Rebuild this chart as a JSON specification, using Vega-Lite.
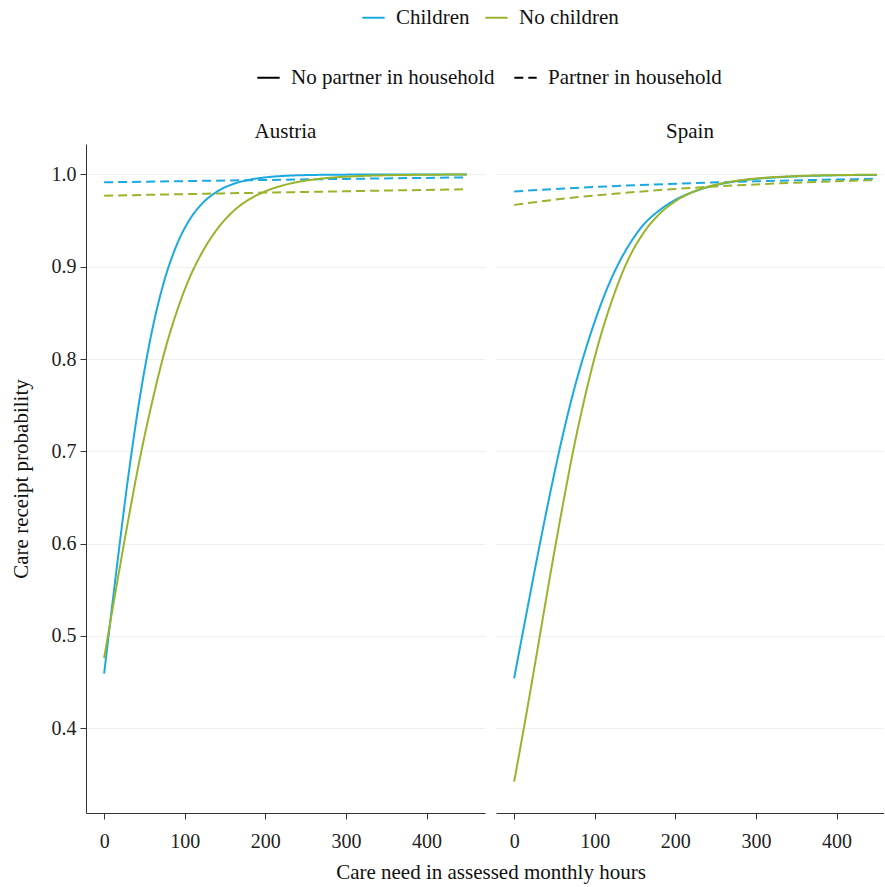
{
  "$schema": "https://vega.github.io/schema/vega-lite/v6.json",
  "padding": {"left": 10, "right": 0, "top": 5, "bottom": 5},
  "data": {
    "values": [
      {"country": "Austria", "children": "Children", "partner": "No partner in household", "hours": 0, "p": 0.459},
      {"country": "Austria", "children": "Children", "partner": "No partner in household", "hours": 15, "p": 0.569},
      {"country": "Austria", "children": "Children", "partner": "No partner in household", "hours": 30, "p": 0.673},
      {"country": "Austria", "children": "Children", "partner": "No partner in household", "hours": 45, "p": 0.762},
      {"country": "Austria", "children": "Children", "partner": "No partner in household", "hours": 60, "p": 0.833},
      {"country": "Austria", "children": "Children", "partner": "No partner in household", "hours": 75, "p": 0.886},
      {"country": "Austria", "children": "Children", "partner": "No partner in household", "hours": 90, "p": 0.9235},
      {"country": "Austria", "children": "Children", "partner": "No partner in household", "hours": 105, "p": 0.9495},
      {"country": "Austria", "children": "Children", "partner": "No partner in household", "hours": 120, "p": 0.967},
      {"country": "Austria", "children": "Children", "partner": "No partner in household", "hours": 140, "p": 0.9814},
      {"country": "Austria", "children": "Children", "partner": "No partner in household", "hours": 160, "p": 0.9896},
      {"country": "Austria", "children": "Children", "partner": "No partner in household", "hours": 180, "p": 0.9942},
      {"country": "Austria", "children": "Children", "partner": "No partner in household", "hours": 200, "p": 0.9968},
      {"country": "Austria", "children": "Children", "partner": "No partner in household", "hours": 225, "p": 0.9985},
      {"country": "Austria", "children": "Children", "partner": "No partner in household", "hours": 250, "p": 0.9993},
      {"country": "Austria", "children": "Children", "partner": "No partner in household", "hours": 300, "p": 0.9998},
      {"country": "Austria", "children": "Children", "partner": "No partner in household", "hours": 350, "p": 1.0},
      {"country": "Austria", "children": "Children", "partner": "No partner in household", "hours": 400, "p": 1.0},
      {"country": "Austria", "children": "Children", "partner": "No partner in household", "hours": 450, "p": 1.0},

      {"country": "Austria", "children": "Children", "partner": "Partner in household", "hours": 0, "p": 0.9915},
      {"country": "Austria", "children": "Children", "partner": "Partner in household", "hours": 150, "p": 0.9934},
      {"country": "Austria", "children": "Children", "partner": "Partner in household", "hours": 300, "p": 0.9952},
      {"country": "Austria", "children": "Children", "partner": "Partner in household", "hours": 450, "p": 0.9968},

      {"country": "Austria", "children": "No children", "partner": "No partner in household", "hours": 0, "p": 0.476},
      {"country": "Austria", "children": "No children", "partner": "No partner in household", "hours": 15, "p": 0.552},
      {"country": "Austria", "children": "No children", "partner": "No partner in household", "hours": 30, "p": 0.626},
      {"country": "Austria", "children": "No children", "partner": "No partner in household", "hours": 45, "p": 0.695},
      {"country": "Austria", "children": "No children", "partner": "No partner in household", "hours": 60, "p": 0.755},
      {"country": "Austria", "children": "No children", "partner": "No partner in household", "hours": 75, "p": 0.808},
      {"country": "Austria", "children": "No children", "partner": "No partner in household", "hours": 90, "p": 0.851},
      {"country": "Austria", "children": "No children", "partner": "No partner in household", "hours": 105, "p": 0.886},
      {"country": "Austria", "children": "No children", "partner": "No partner in household", "hours": 120, "p": 0.913},
      {"country": "Austria", "children": "No children", "partner": "No partner in household", "hours": 140, "p": 0.9405},
      {"country": "Austria", "children": "No children", "partner": "No partner in household", "hours": 160, "p": 0.960},
      {"country": "Austria", "children": "No children", "partner": "No partner in household", "hours": 180, "p": 0.973},
      {"country": "Austria", "children": "No children", "partner": "No partner in household", "hours": 200, "p": 0.9817},
      {"country": "Austria", "children": "No children", "partner": "No partner in household", "hours": 225, "p": 0.9889},
      {"country": "Austria", "children": "No children", "partner": "No partner in household", "hours": 250, "p": 0.9933},
      {"country": "Austria", "children": "No children", "partner": "No partner in household", "hours": 275, "p": 0.996},
      {"country": "Austria", "children": "No children", "partner": "No partner in household", "hours": 300, "p": 0.9976},
      {"country": "Austria", "children": "No children", "partner": "No partner in household", "hours": 350, "p": 0.9991},
      {"country": "Austria", "children": "No children", "partner": "No partner in household", "hours": 400, "p": 0.9997},
      {"country": "Austria", "children": "No children", "partner": "No partner in household", "hours": 450, "p": 0.9999},

      {"country": "Austria", "children": "No children", "partner": "Partner in household", "hours": 0, "p": 0.977},
      {"country": "Austria", "children": "No children", "partner": "Partner in household", "hours": 150, "p": 0.9795},
      {"country": "Austria", "children": "No children", "partner": "Partner in household", "hours": 300, "p": 0.9818},
      {"country": "Austria", "children": "No children", "partner": "Partner in household", "hours": 450, "p": 0.984},

      {"country": "Spain", "children": "Children", "partner": "No partner in household", "hours": 0, "p": 0.454},
      {"country": "Spain", "children": "Children", "partner": "No partner in household", "hours": 15, "p": 0.523},
      {"country": "Spain", "children": "Children", "partner": "No partner in household", "hours": 30, "p": 0.591},
      {"country": "Spain", "children": "Children", "partner": "No partner in household", "hours": 45, "p": 0.656},
      {"country": "Spain", "children": "Children", "partner": "No partner in household", "hours": 60, "p": 0.716},
      {"country": "Spain", "children": "Children", "partner": "No partner in household", "hours": 75, "p": 0.769},
      {"country": "Spain", "children": "Children", "partner": "No partner in household", "hours": 90, "p": 0.814},
      {"country": "Spain", "children": "Children", "partner": "No partner in household", "hours": 105, "p": 0.853},
      {"country": "Spain", "children": "Children", "partner": "No partner in household", "hours": 120, "p": 0.886},
      {"country": "Spain", "children": "Children", "partner": "No partner in household", "hours": 140, "p": 0.920},
      {"country": "Spain", "children": "Children", "partner": "No partner in household", "hours": 160, "p": 0.945},
      {"country": "Spain", "children": "Children", "partner": "No partner in household", "hours": 180, "p": 0.961},
      {"country": "Spain", "children": "Children", "partner": "No partner in household", "hours": 200, "p": 0.9725},
      {"country": "Spain", "children": "Children", "partner": "No partner in household", "hours": 225, "p": 0.982},
      {"country": "Spain", "children": "Children", "partner": "No partner in household", "hours": 250, "p": 0.9884},
      {"country": "Spain", "children": "Children", "partner": "No partner in household", "hours": 275, "p": 0.9926},
      {"country": "Spain", "children": "Children", "partner": "No partner in household", "hours": 300, "p": 0.9952},
      {"country": "Spain", "children": "Children", "partner": "No partner in household", "hours": 350, "p": 0.9979},
      {"country": "Spain", "children": "Children", "partner": "No partner in household", "hours": 400, "p": 0.9991},
      {"country": "Spain", "children": "Children", "partner": "No partner in household", "hours": 450, "p": 0.9995},

      {"country": "Spain", "children": "Children", "partner": "Partner in household", "hours": 0, "p": 0.9816},
      {"country": "Spain", "children": "Children", "partner": "Partner in household", "hours": 75, "p": 0.9854},
      {"country": "Spain", "children": "Children", "partner": "Partner in household", "hours": 150, "p": 0.9883},
      {"country": "Spain", "children": "Children", "partner": "Partner in household", "hours": 225, "p": 0.9907},
      {"country": "Spain", "children": "Children", "partner": "Partner in household", "hours": 300, "p": 0.9926},
      {"country": "Spain", "children": "Children", "partner": "Partner in household", "hours": 375, "p": 0.9941},
      {"country": "Spain", "children": "Children", "partner": "Partner in household", "hours": 450, "p": 0.9953},

      {"country": "Spain", "children": "No children", "partner": "No partner in household", "hours": 0, "p": 0.342},
      {"country": "Spain", "children": "No children", "partner": "No partner in household", "hours": 15, "p": 0.4145},
      {"country": "Spain", "children": "No children", "partner": "No partner in household", "hours": 30, "p": 0.4905},
      {"country": "Spain", "children": "No children", "partner": "No partner in household", "hours": 45, "p": 0.567},
      {"country": "Spain", "children": "No children", "partner": "No partner in household", "hours": 60, "p": 0.640},
      {"country": "Spain", "children": "No children", "partner": "No partner in household", "hours": 75, "p": 0.708},
      {"country": "Spain", "children": "No children", "partner": "No partner in household", "hours": 90, "p": 0.767},
      {"country": "Spain", "children": "No children", "partner": "No partner in household", "hours": 105, "p": 0.818},
      {"country": "Spain", "children": "No children", "partner": "No partner in household", "hours": 120, "p": 0.860},
      {"country": "Spain", "children": "No children", "partner": "No partner in household", "hours": 140, "p": 0.905},
      {"country": "Spain", "children": "No children", "partner": "No partner in household", "hours": 160, "p": 0.936},
      {"country": "Spain", "children": "No children", "partner": "No partner in household", "hours": 180, "p": 0.957},
      {"country": "Spain", "children": "No children", "partner": "No partner in household", "hours": 200, "p": 0.971},
      {"country": "Spain", "children": "No children", "partner": "No partner in household", "hours": 225, "p": 0.9822},
      {"country": "Spain", "children": "No children", "partner": "No partner in household", "hours": 250, "p": 0.9888},
      {"country": "Spain", "children": "No children", "partner": "No partner in household", "hours": 275, "p": 0.993},
      {"country": "Spain", "children": "No children", "partner": "No partner in household", "hours": 300, "p": 0.9956},
      {"country": "Spain", "children": "No children", "partner": "No partner in household", "hours": 350, "p": 0.9982},
      {"country": "Spain", "children": "No children", "partner": "No partner in household", "hours": 400, "p": 0.9993},
      {"country": "Spain", "children": "No children", "partner": "No partner in household", "hours": 450, "p": 0.9997},

      {"country": "Spain", "children": "No children", "partner": "Partner in household", "hours": 0, "p": 0.967},
      {"country": "Spain", "children": "No children", "partner": "Partner in household", "hours": 50, "p": 0.9726},
      {"country": "Spain", "children": "No children", "partner": "Partner in household", "hours": 100, "p": 0.9772},
      {"country": "Spain", "children": "No children", "partner": "Partner in household", "hours": 150, "p": 0.981},
      {"country": "Spain", "children": "No children", "partner": "Partner in household", "hours": 200, "p": 0.9843},
      {"country": "Spain", "children": "No children", "partner": "Partner in household", "hours": 250, "p": 0.987},
      {"country": "Spain", "children": "No children", "partner": "Partner in household", "hours": 300, "p": 0.9892},
      {"country": "Spain", "children": "No children", "partner": "Partner in household", "hours": 350, "p": 0.9911},
      {"country": "Spain", "children": "No children", "partner": "Partner in household", "hours": 400, "p": 0.9926},
      {"country": "Spain", "children": "No children", "partner": "Partner in household", "hours": 450, "p": 0.9939}
    ]
  },
  "config": {
    "font": "Liberation Serif",
    "view": {"stroke": null},
    "axis": {
      "labelFont": "Liberation Serif",
      "labelFontSize": 20,
      "labelColor": "#222222",
      "titleFont": "Liberation Serif",
      "titleFontSize": 21,
      "titleFontWeight": "normal",
      "titleColor": "#111111",
      "domainColor": "#333333",
      "tickColor": "#333333",
      "tickSize": 6,
      "gridColor": "#efefef",
      "gridWidth": 1
    },
    "title": {"font": "Liberation Serif", "fontSize": 21, "fontWeight": "normal", "color": "#111111"},
    "legend": {
      "labelFont": "Liberation Serif",
      "labelFontSize": 21,
      "labelColor": "#111111",
      "labelLimit": 400,
      "symbolType": "stroke",
      "symbolStrokeWidth": 2,
      "symbolSize": 500,
      "labelOffset": 10,
      "columnPadding": 11
    }
  },
  "title": {
    "text": "Care need in assessed monthly hours",
    "orient": "bottom",
    "anchor": "middle",
    "font": "Liberation Serif",
    "fontSize": 21,
    "fontWeight": "normal",
    "dx": 44,
    "offset": 11
  },
  "spacing": 11,
  "resolve": {
    "scale": {"color": "shared", "strokeDash": "shared"},
    "legend": {"color": "shared", "strokeDash": "shared"}
  },
  "hconcat": [
    {
      "title": {"text": "Austria", "offset": 2, "font": "Liberation Serif", "fontSize": 21, "fontWeight": "normal"},
      "width": 399,
      "height": 669,
      "transform": [{"filter": "datum.country === 'Austria'"}],
      "mark": {"type": "line", "strokeWidth": 2, "interpolate": "monotone"},
      "encoding": {
        "x": {
          "field": "hours", "type": "quantitative",
          "scale": {"domain": [-22.5, 472.5], "nice": false, "zero": false},
          "axis": {"title": null, "values": [0, 100, 200, 300, 400], "grid": false, "labelPadding": 12, "labelFont": "Liberation Serif"}
        },
        "y": {
          "field": "p", "type": "quantitative",
          "scale": {"domain": [0.308, 1.033], "nice": false, "zero": false},
          "axis": {"title": "Care receipt probability", "values": [0.4, 0.5, 0.6, 0.7, 0.8, 0.9, 1.0], "format": ".1f", "grid": true, "labelPadding": 4, "titlePadding": 20, "labelFont": "Liberation Serif", "titleFont": "Liberation Serif"}
        },
        "color": {
          "field": "children", "type": "nominal",
          "scale": {"domain": ["Children", "No children"], "range": ["#1BA9E1", "#98B42B"]},
          "legend": {"title": null, "orient": "none", "direction": "horizontal", "legendX": 275, "legendY": -139, "labelFont": "Liberation Serif", "labelFontSize": 21}
        },
        "strokeDash": {
          "field": "partner", "type": "nominal",
          "scale": {"domain": ["No partner in household", "Partner in household"], "range": [[1, 0], [9, 5]]},
          "legend": {"title": null, "orient": "none", "direction": "horizontal", "legendX": 170, "legendY": -79, "columnPadding": 15, "symbolStrokeColor": "#000000", "labelFont": "Liberation Serif", "labelFontSize": 21}
        }
      }
    },
    {
      "title": {"text": "Spain", "offset": 2, "font": "Liberation Serif", "fontSize": 21, "fontWeight": "normal"},
      "width": 388,
      "height": 669,
      "transform": [{"filter": "datum.country === 'Spain'"}],
      "mark": {"type": "line", "strokeWidth": 2, "interpolate": "monotone"},
      "encoding": {
        "x": {
          "field": "hours", "type": "quantitative",
          "scale": {"domain": [-22.5, 458.8], "nice": false, "zero": false},
          "axis": {"title": null, "values": [0, 100, 200, 300, 400], "grid": false, "labelPadding": 12, "labelFont": "Liberation Serif"}
        },
        "y": {
          "field": "p", "type": "quantitative",
          "scale": {"domain": [0.308, 1.033], "nice": false, "zero": false},
          "axis": {"title": null, "values": [0.4, 0.5, 0.6, 0.7, 0.8, 0.9, 1.0], "grid": true, "labels": false, "ticks": false, "domain": false}
        },
        "color": {"field": "children", "type": "nominal"},
        "strokeDash": {"field": "partner", "type": "nominal"}
      }
    }
  ]
}
